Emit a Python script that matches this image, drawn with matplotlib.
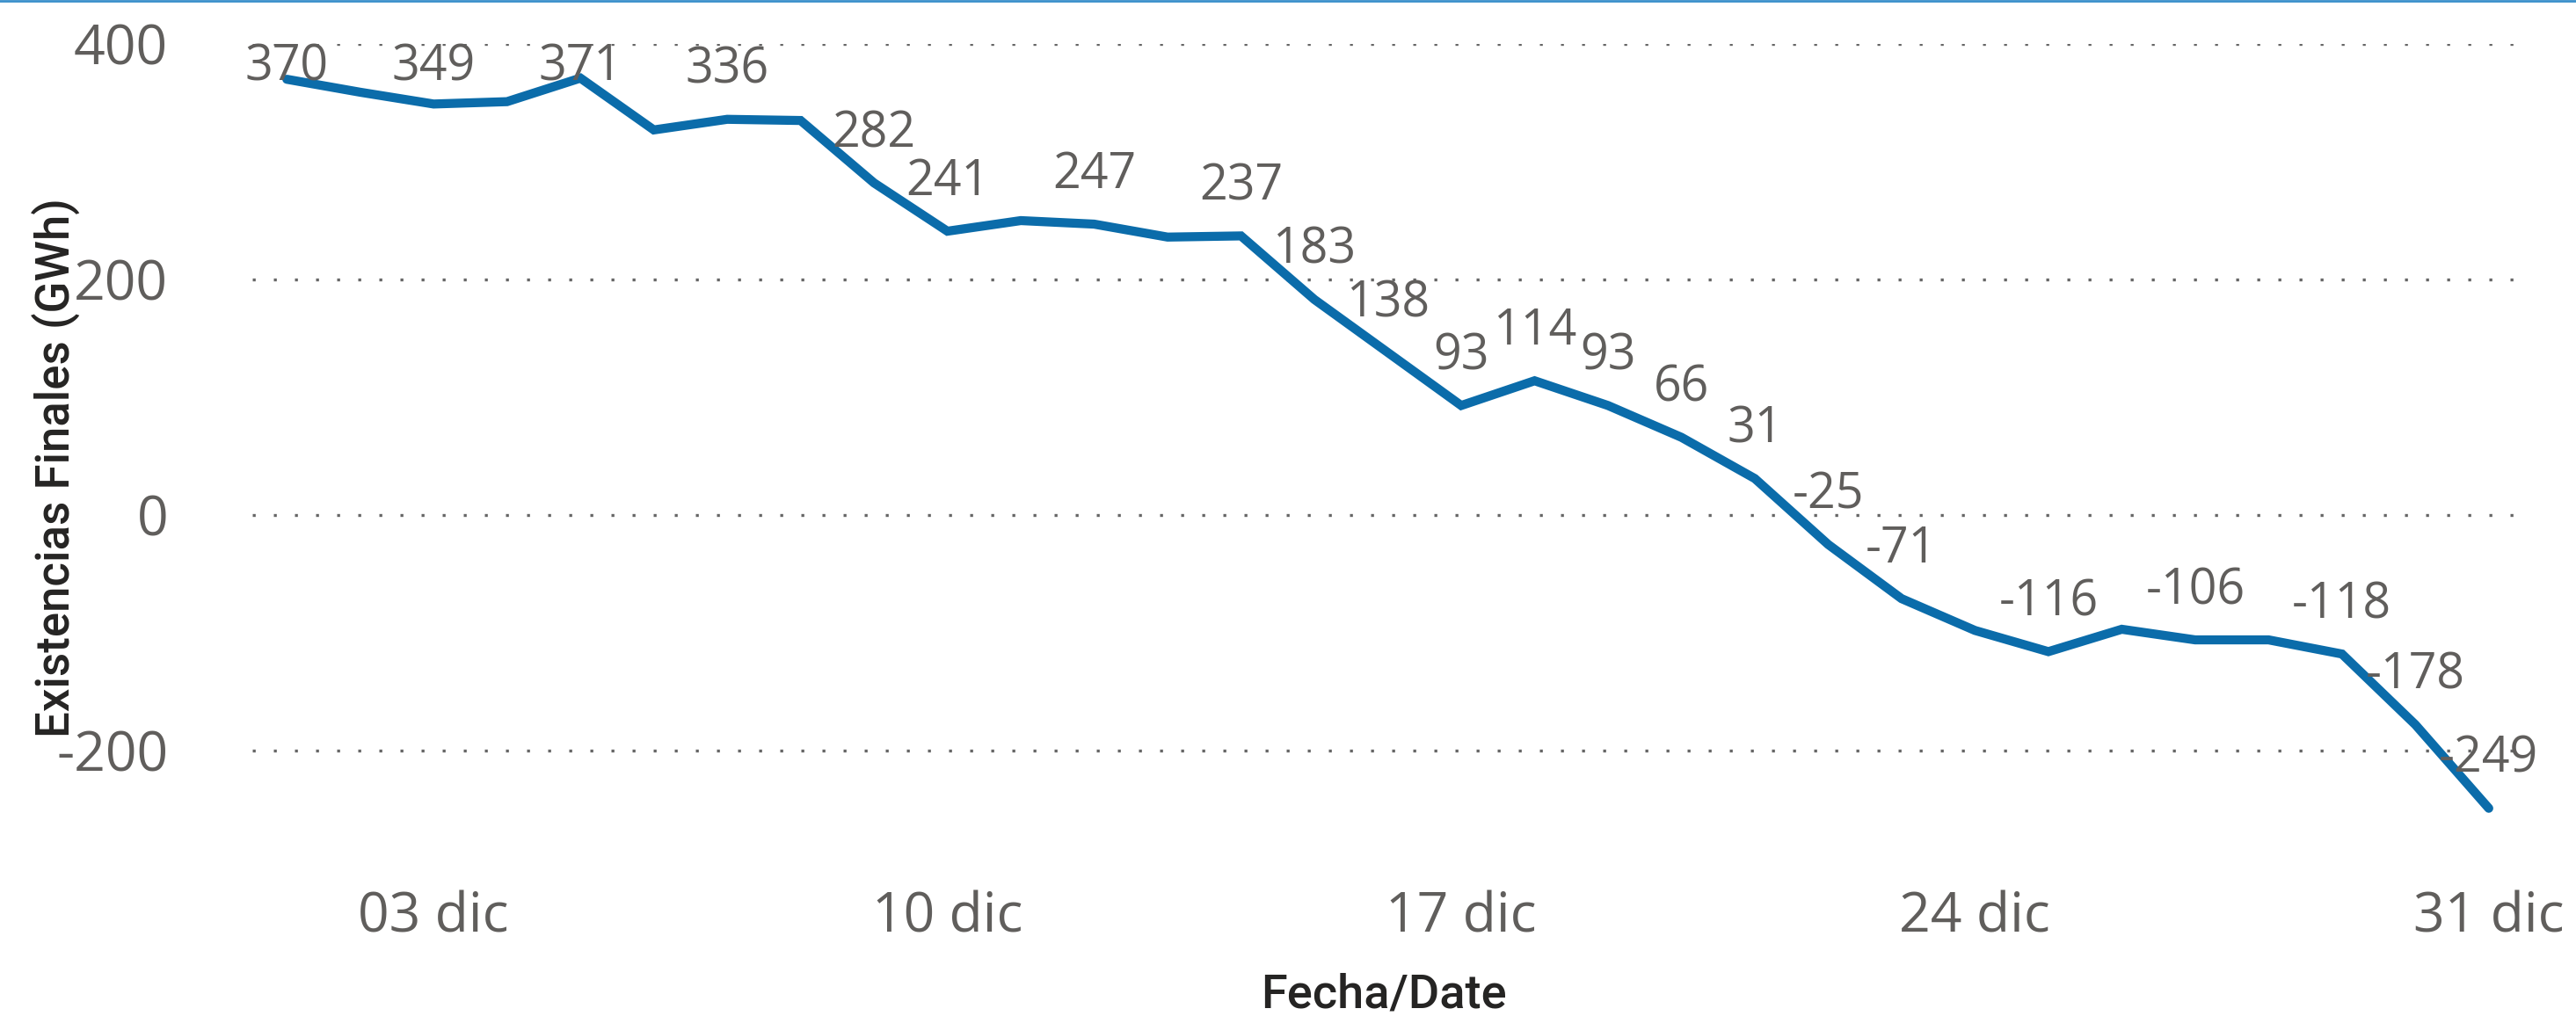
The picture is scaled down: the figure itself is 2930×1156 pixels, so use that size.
import matplotlib
matplotlib.use("Agg")
import matplotlib.pyplot as plt
from matplotlib.lines import Line2D
import numpy as np

# ---- data ----
days = np.arange(1, 32)  # 1..31 diciembre
stock = [370, 359, 349, 351, 371, 327, 336, 335, 282, 241, 250, 247, 236, 237,
         183, 138, 93, 114, 93, 66, 31, -25, -71, -98, -116, -97, -106, -106,
         -118, -178, -249]
label_days = [1, 3, 5, 7, 9, 10, 12, 14, 15, 16, 17, 18, 19, 20, 21, 22, 23,
              25, 27, 29, 30, 31]
xtick_days = [3, 10, 17, 24, 31]
xtick_labels = ["03 dic", "10 dic", "17 dic", "24 dic", "31 dic"]
ytick_vals = [-200, 0, 200, 400]
ytick_labels = ["-200", "0", "200", "400"]

W, H, DPI = 2930, 1156, 100
fig = plt.figure(figsize=(W / DPI, H / DPI), dpi=DPI)
L, R, T, B = 287, 2860, 50, 988
ax = fig.add_axes([L / W, 1 - B / H, (R - L) / W, (B - T) / H])

line_color = "#0B6CAA"
grey = "#605E5C"

ax.set_xlim(0.53, 31.35)
ax.set_ylim(-300, 400)

ax.plot(days, stock, color=line_color, lw=7.4, solid_capstyle="round",
        solid_joinstyle="miter", zorder=3)

# grid
ax.set_yticks(ytick_vals)
ax.set_yticklabels(ytick_labels)
ax.yaxis.grid(True, linestyle=(0, (1, 6.2)), linewidth=2.4, color="#666666")
ax.set_axisbelow(True)
for s in ax.spines.values():
    s.set_visible(False)
ax.tick_params(axis="both", length=0)
ax.tick_params(axis="y", pad=69, labelsize=45, labelcolor=grey)
ax.tick_params(axis="x", pad=18, labelsize=45, labelcolor=grey)
ax.set_xticks(xtick_days)
ax.set_xticklabels(xtick_labels)
for lab in ax.get_yticklabels() + ax.get_xticklabels():
    lab.set_family("Open Sans")

# data labels
px_per_unit = (B - T) / 700.0
for d in label_days:
    v = stock[d - 1]
    yb = min(v + 41 / px_per_unit, 400 - 42 / px_per_unit)
    ax.text(d, yb, f"{v}", ha="center", va="baseline", fontsize=40,
            color=grey, family="Open Sans", zorder=4)

fig.text(64 / W, 1 - 532 / H, "Existencias Finales (GWh)", rotation=90,
         ha="center", va="center", fontsize=38, family="Roboto",
         fontweight="medium", color="#252423")
fig.text((L + R) / 2 / W, 1 - 1132 / H, "Fecha/Date", ha="center", va="center",
         fontsize=39, family="Roboto", fontweight="medium", color="#252423")

# top border
fig.add_artist(Line2D([0, 1], [0.999, 0.999], transform=fig.transFigure,
                      color="#3A8FCB", lw=2))

fig.savefig("out.png", dpi=DPI)
